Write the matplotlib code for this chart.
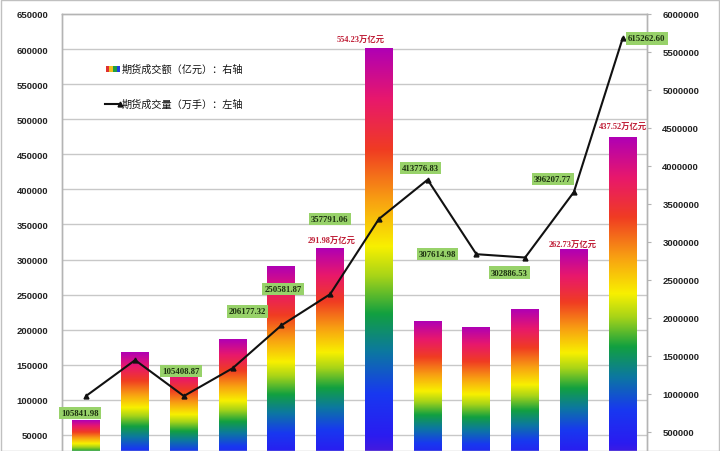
import matplotlib
matplotlib.use("Agg")
import matplotlib.pyplot as plt
import numpy as np
from matplotlib.colors import LinearSegmentedColormap
from matplotlib.transforms import blended_transform_factory
from matplotlib.patches import Rectangle
from matplotlib.lines import Line2D

plt.rcParams['font.family'] = ['Liberation Sans', 'Noto Sans CJK SC', 'DejaVu Sans']

# ---------------- data ----------------
years = [2009, 2010, 2011, 2012, 2013, 2014, 2015, 2016, 2017, 2018, 2019, 2020]
turnover = [650000, 1540000, 1375200, 1711200, 2674700, 2919800, 5542300,
            1956300, 1879000, 2108200, 2906100, 4375200]          # 亿元, right axis
volume = [105841.98, 156635.16, 105408.87, 145061.96, 206177.32, 250581.87,
          357791.06, 413776.83, 307614.98, 302886.53, 396207.77, 615262.60]  # 万手, left axis
volume_labels = ["105841.98", None, "105408.87", None, "206177.32", "250581.87",
                 "357791.06", "413776.83", "307614.98", "302886.53", "396207.77", "615262.60"]
turnover_labels = [None, None, None, None, None, "291.98万亿元", "554.23万亿元",
                   None, None, None, "262.73万亿元", "437.52万亿元"]
left_ticks = list(range(50000, 650001, 50000))
right_ticks = list(range(500000, 6000001, 500000))
legend_labels = ["期货成交额（亿元）：右轴", "期货成交量（万手）：左轴"]

# label offsets in pixels (dx, dy with y up)
vol_offsets = [(-6, -17), None, (-3, 25), None, (-34, 14), (-47, 5),
               (-49, 0), (-7, 12), (-39, 0), (-16, -15), (-21, 13), (24, 0)]
turn_offsets = [None, None, None, None, None, (2, 7), (-18, 9),
                None, None, None, (-1, 4), (0, 11)]

W, H = 720, 452
fig = plt.figure(figsize=(W / 100, H / 100), dpi=100)
fig.patch.set_facecolor('white')

L, R, T, B = 62, 647, 15, 471
ax = fig.add_axes([L / W, 1 - B / H, (R - L) / W, (B - T) / H])
ax2 = ax.twinx()

n = len(years)
x = np.arange(n)

# rainbow gradient colormap (bottom -> top)
stops = [(0.00, '#6418c8'), (0.08, '#2a1cf0'), (0.18, '#1838f0'),
         (0.28, '#0c78a0'), (0.37, '#12a040'), (0.46, '#a8d418'),
         (0.53, '#f8f000'), (0.64, '#f8a012'), (0.76, '#f03c22'),
         (0.88, '#e8186c'), (1.00, '#b000b4')]
cmap = LinearSegmentedColormap.from_list('rainbowbar', stops)
grad = np.linspace(0, 1, 256).reshape(-1, 1)

bw = 0.57
for i, v in enumerate(turnover):
    ax.imshow(grad, extent=[i - bw / 2, i + bw / 2, 0, v], aspect='auto',
              origin='lower', cmap=cmap, interpolation='bilinear', zorder=2)

ax.set_xlim(-0.5, n - 0.5)
ax.set_ylim(0, 6000000)
ax2.set_ylim(0, 650000)
ax.set_aspect('auto')

# gridlines from the left scale, drawn behind the bars
gtr = blended_transform_factory(ax.transAxes, ax2.transData)
for v in left_ticks[:-1]:
    ax.add_line(Line2D([0, 1], [v, v], transform=gtr, color='#c8c8c8', lw=1.0, zorder=1))

# line
ax2.plot(x, volume, color='#111111', lw=1.5, marker='^', ms=3.5, zorder=5)

# axes styling
ax.yaxis.tick_right()
ax.set_yticks(right_ticks)
ax.set_yticklabels([str(t) for t in right_ticks])
ax2.yaxis.tick_left()
ax2.yaxis.set_label_position('left')
ax2.set_yticks(left_ticks)
ax2.set_yticklabels([str(t) for t in left_ticks])
ax.set_xticks([])
ax2.set_xticks([])
for a in (ax, ax2):
    for s in a.spines.values():
        s.set_color('#b4b4b4')
        s.set_linewidth(1.0)
ax.tick_params(axis='y', right=True, left=False, length=3, color='#b4b4b4',
               pad=8, labelsize=6.8, labelcolor='#222222')
ax2.tick_params(axis='y', left=True, right=False, length=0, pad=10,
                labelsize=6.8, labelcolor='#222222')
for lab in ax.get_yticklabels() + ax2.get_yticklabels():
    lab.set_fontweight('bold')

# green volume labels
num_font = ['Liberation Serif', 'Noto Sans CJK SC']
for i, (txt, off) in enumerate(zip(volume_labels, vol_offsets)):
    if txt is None:
        continue
    ax2.annotate(txt, (x[i], volume[i]), xytext=off, textcoords='offset pixels',
                 ha='center', va='center', fontsize=6.3, fontweight='bold',
                 family=num_font, color='#1c3010', zorder=8,
                 bbox=dict(boxstyle='square,pad=0.25', fc='#98d26a', ec='none'))

# red turnover labels
for i, (txt, off) in enumerate(zip(turnover_labels, turn_offsets)):
    if txt is None:
        continue
    ax.annotate(txt, (x[i], turnover[i]), xytext=off, textcoords='offset pixels',
                ha='center', va='center', fontsize=6.0, fontweight='bold',
                family=num_font, color='#c02038', zorder=8)

# legend (manual)
sw_cols = ['#e03030', '#f0c020', '#20a040', '#2040e0']
for k, c in enumerate(sw_cols):
    fig.add_artist(Rectangle(((106 + k * 3.5) / W, 1 - 73 / H), 3.5 / W, 6 / H,
                             transform=fig.transFigure, fc=c, ec='none'))
fig.add_artist(Line2D([105 / W, 120 / W], [1 - 105 / H, 1 - 105 / H],
                      transform=fig.transFigure, color='#111111', lw=1.5,
                      marker='^', ms=3.5, markevery=[1]))
fig.text(122 / W, 1 - 70 / H, legend_labels[0], fontsize=7.3,
         family=['Noto Sans CJK SC'], va='center', ha='left', color='#111111')
fig.text(122 / W, 1 - 105 / H, legend_labels[1], fontsize=7.3,
         family=['Noto Sans CJK SC'], va='center', ha='left', color='#111111')

# outer border
fig.add_artist(Rectangle((0.5 / W, 0), (W - 1.5) / W, 1 - 1.0 / H, transform=fig.transFigure,
                         fill=False, ec='#c0c0c0', lw=1.0))

fig.savefig('out.png', dpi=100)
